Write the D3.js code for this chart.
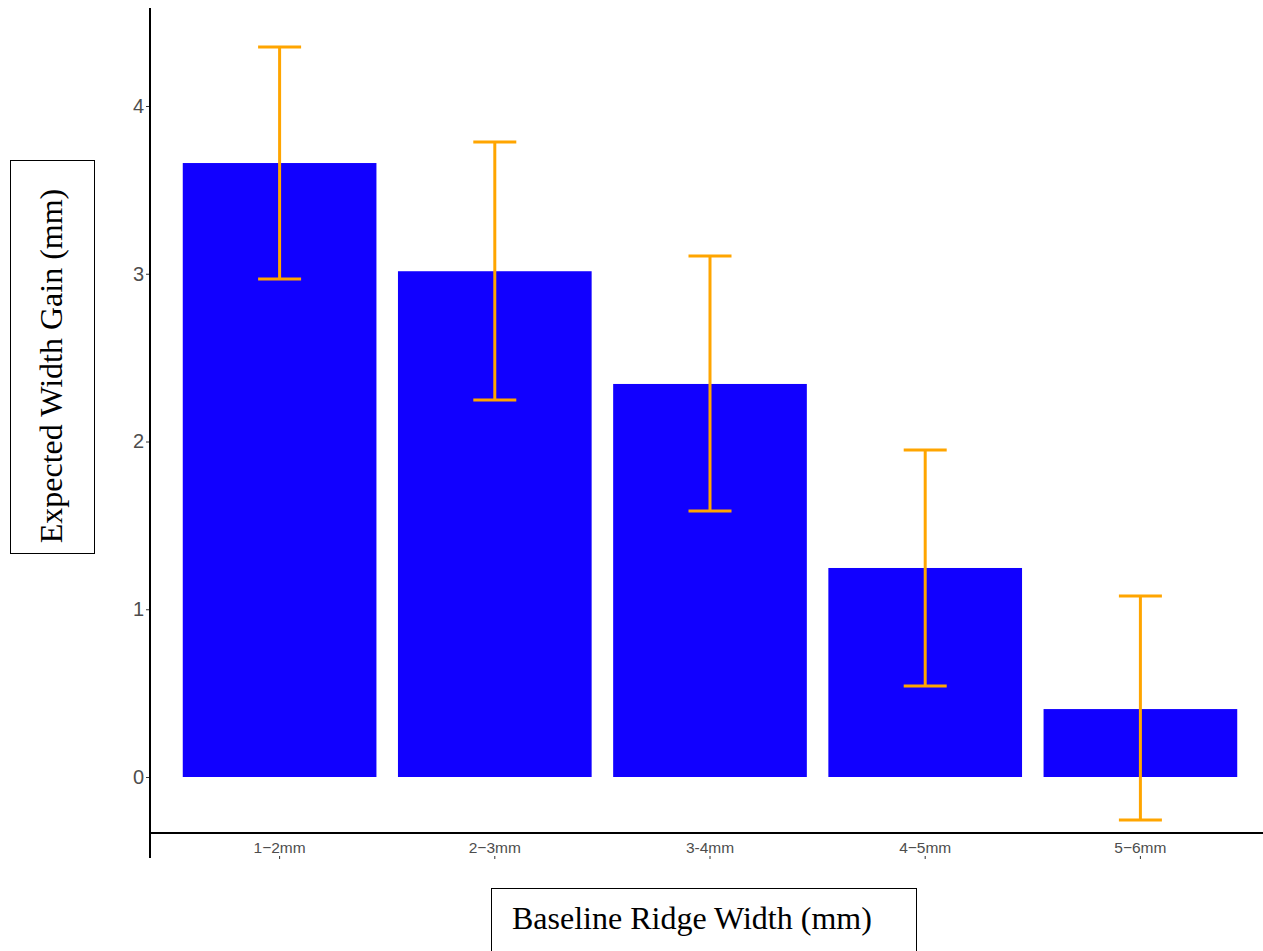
<!DOCTYPE html>
<html>
  <head>
    <title> Expected Width Gain </title>
    <script src = "https://d3js.org/d3.v7.min.js" charset = "utf-8"></script>
    <style>
      body { margin: 0; background: #fff; }
      svg { display: block; }
    </style>
  </head>

  <body>
    <script>
      // data
      var categories = ["1\u22122mm", "2\u22123mm", "3-4mm", "4\u22125mm", "5\u22126mm"];
      var gains = [3.66, 3.015, 2.343, 1.246, 0.405];
      var lower = [2.969, 2.247, 1.586, 0.542, -0.256];
      var upper = [4.352, 3.785, 3.106, 1.949, 1.079];
      var yTicks = [0, 1, 2, 3, 4];

      var width = 1263;
      var height = 951;

      var svg = d3.select("body") //the SVG
        .append("svg")
        .attr("width", width)
        .attr("height", height);

      var x = d3.scaleBand()
        .domain(categories)
        .range([172, 1248])
        .paddingInner(0.1)
        .paddingOuter(0.05);

      var y = d3.scaleLinear()
        .domain([0, 4])
        .range([777, 106]);

      // bars
      svg.append("g")
        .selectAll("rect")
        .data(categories)
        .enter()
        .append("rect")
        .attr("x", function(d){ return x(d); })
        .attr("width", x.bandwidth())
        .attr("y", function(d, i){ return y(gains[i]); })
        .attr("height", function(d, i){ return y(0) - y(gains[i]); })
        .attr("fill", "#1100ff");

      // error bars
      var err = svg.append("g")
        .attr("stroke", "#ffa500")
        .attr("stroke-width", 3)
        .attr("fill", "none");

      var capHalf = 21.5;
      categories.forEach(function(c, i){
        var cx = x(c) + x.bandwidth() / 2;
        err.append("line")
          .attr("x1", cx).attr("x2", cx)
          .attr("y1", y(upper[i])).attr("y2", y(lower[i]));
        err.append("line")
          .attr("x1", cx - capHalf).attr("x2", cx + capHalf)
          .attr("y1", y(upper[i])).attr("y2", y(upper[i]));
        err.append("line")
          .attr("x1", cx - capHalf).attr("x2", cx + capHalf)
          .attr("y1", y(lower[i])).attr("y2", y(lower[i]));
      });

      // y axis
      var yAxis = svg.append("g")
        .attr("transform", "translate(150,0)")
        .call(d3.axisLeft(y).tickValues(yTicks).tickFormat(d3.format("d"))
          .tickSize(4).tickSizeOuter(0).tickPadding(2));
      yAxis.select(".domain").remove();
      yAxis.selectAll(".tick line").attr("stroke", "#333").attr("stroke-width", 1);
      yAxis.selectAll("text")
        .attr("fill", "#4d4d4d")
        .style("font-family", "Arial, 'Liberation Sans', sans-serif")
        .style("font-size", "20px");

      svg.append("line") //y axis line
        .attr("x1", 150).attr("x2", 150)
        .attr("y1", 8).attr("y2", 858)
        .attr("stroke", "#000").attr("stroke-width", 2);

      svg.append("line") //x axis line
        .attr("x1", 150).attr("x2", width)
        .attr("y1", 833).attr("y2", 833)
        .attr("stroke", "#000").attr("stroke-width", 2);

      // x labels with the small tick dot underneath
      var xAxis = svg.append("g");
      xAxis.selectAll("text")
        .data(categories)
        .enter()
        .append("text")
        .attr("x", function(d){ return x(d) + x.bandwidth() / 2; })
        .attr("y", 853)
        .attr("text-anchor", "middle")
        .attr("fill", "#4d4d4d")
        .style("font-family", "Arial, 'Liberation Sans', sans-serif")
        .style("font-size", "15.5px")
        .text(function(d){ return d; });
      xAxis.selectAll("line")
        .data(categories)
        .enter()
        .append("line")
        .attr("x1", function(d){ return x(d) + x.bandwidth() / 2; })
        .attr("x2", function(d){ return x(d) + x.bandwidth() / 2; })
        .attr("y1", 856).attr("y2", 859)
        .attr("stroke", "#333");

      // boxed axis titles
      svg.append("rect")
        .attr("x", 10.5).attr("y", 160.5)
        .attr("width", 84).attr("height", 393)
        .attr("fill", "none").attr("stroke", "#000");
      svg.append("text")
        .attr("transform", "translate(62,366) rotate(-90)")
        .attr("text-anchor", "middle")
        .style("font-family", "'Liberation Serif', 'Times New Roman', serif")
        .style("font-size", "32px")
        .text("Expected Width Gain (mm)");

      svg.append("rect")
        .attr("x", 491.5).attr("y", 888.5)
        .attr("width", 425).attr("height", 80)
        .attr("fill", "none").attr("stroke", "#000");
      svg.append("text")
        .attr("x", 512).attr("y", 929)
        .style("font-family", "'Liberation Serif', 'Times New Roman', serif")
        .style("font-size", "32px")
        .text("Baseline Ridge Width (mm)");
    </script>
  </body>
</html>
